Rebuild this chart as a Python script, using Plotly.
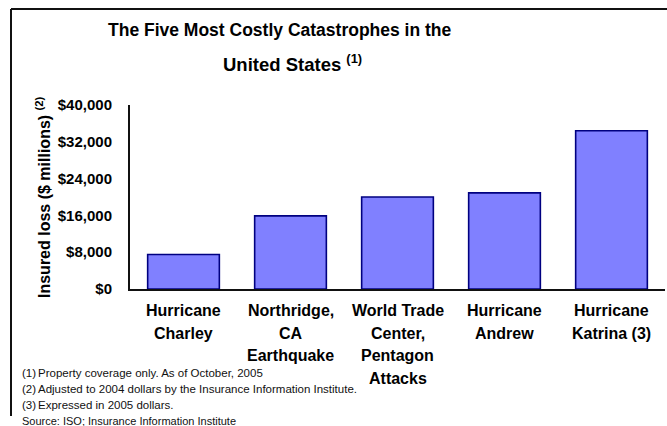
import plotly.graph_objects as go

# ---- data ----
categories = ["Hurricane Charley", "Northridge, CA Earthquake",
              "World Trade Center, Pentagon Attacks", "Hurricane Andrew",
              "Hurricane Katrina (3)"]
label_lines = [["Hurricane", "Charley"],
               ["Northridge,", "CA", "Earthquake"],
               ["World Trade", "Center,", "Pentagon", "Attacks"],
               ["Hurricane", "Andrew"],
               ["Hurricane", "Katrina (3)"]]
insured_loss = [7500, 15900, 20000, 20900, 34400]
y_ticks = [0, 8000, 16000, 24000, 32000, 40000]
y_tick_text = ["$" + format(v, ",") for v in y_ticks]
title_line1 = "The Five Most Costly Catastrophes in the"
title_line2 = "United States <sup>(1)</sup>"
y_title = "Insured loss ($ millions) <sup>(2)</sup>"
footnote_marks = ["(1)", "(2)", "(3)"]
footnote_texts = ["Property coverage only. As of October, 2005",
                  "Adjusted to 2004 dollars by the Insurance Information Institute.",
                  "Expressed in 2005 dollars."]
source_text = "Source: ISO; Insurance Information Institute"

# ---- layout geometry (pixels) ----
W, H = 667, 426
L, R, T, B = 130, 2, 105, 137
PW, PH = W - L - R, H - T - B
FONT = "Arial, Liberation Sans, sans-serif"


def px(xp):
    return (xp - L) / PW


def py(yp):
    return (H - B - yp) / PH


fig = go.Figure(go.Bar(
    x=categories, y=insured_loss, width=0.67,
    marker=dict(color="#8080FF", line=dict(color="#000080", width=1.6)),
))

ann = []
ann.append(dict(text=title_line1, x=px(280), y=py(30), xref="paper", yref="paper",
                showarrow=False, xanchor="center", yanchor="middle",
                font=dict(family=FONT, size=17.5, color="black", weight="bold")))
ann.append(dict(text=title_line2, x=px(292), y=py(63), xref="paper", yref="paper",
                showarrow=False, xanchor="center", yanchor="middle",
                font=dict(family=FONT, size=18.5, color="black", weight="bold")))
ann.append(dict(text=y_title, x=px(43), y=py(197), xref="paper", yref="paper",
                showarrow=False, xanchor="center", yanchor="middle", textangle=-90,
                font=dict(family=FONT, size=16, color="black", weight="bold")))

line_y = [310, 333, 355, 378]
for cat, lines in zip(categories, label_lines):
    for i, t in enumerate(lines):
        ann.append(dict(text=t, x=cat, xref="x", y=py(line_y[i]), yref="paper",
                        showarrow=False, xanchor="center", yanchor="middle",
                        font=dict(family=FONT, size=16, color="black", weight="bold")))

fn_y = [373, 389, 405]
for m, t, yy in zip(footnote_marks, footnote_texts, fn_y):
    ann.append(dict(text=m, x=px(20), y=py(yy), xref="paper", yref="paper",
                    showarrow=False, xanchor="left", yanchor="middle",
                    font=dict(family=FONT, size=11.5, color="#111")))
    ann.append(dict(text=t, x=px(36), y=py(yy), xref="paper", yref="paper",
                    showarrow=False, xanchor="left", yanchor="middle",
                    font=dict(family=FONT, size=11.5, color="#111")))
ann.append(dict(text=source_text, x=px(20), y=py(421), xref="paper", yref="paper",
                showarrow=False, xanchor="left", yanchor="middle",
                font=dict(family=FONT, size=11, color="#111")))

shapes = [
    dict(type="line", xref="paper", yref="paper", x0=px(11), x1=px(11),
         y0=py(9), y1=py(416), line=dict(color="#111", width=2)),
    dict(type="line", xref="paper", yref="paper", x0=px(11), x1=px(668),
         y0=py(9), y1=py(9), line=dict(color="#111", width=2)),
]

fig.update_layout(
    width=W, height=H,
    margin=dict(l=L, r=R, t=T, b=B, pad=0),
    paper_bgcolor="white", plot_bgcolor="white",
    showlegend=False,
    annotations=ann, shapes=shapes,
    xaxis=dict(showticklabels=False, showline=True, linecolor="#111", linewidth=2,
               ticks="", showgrid=False, zeroline=False, range=[-0.5, 4.5]),
    yaxis=dict(range=[0, 40000], tickmode="array", tickvals=y_ticks,
               ticktext=y_tick_text,
               showline=True, linecolor="#111", linewidth=2, ticks="",
               showgrid=False, zeroline=False, ticklabelstandoff=13,
               tickfont=dict(family=FONT, size=15, color="black", weight="bold")),
)

fig.write_html("out.html")
